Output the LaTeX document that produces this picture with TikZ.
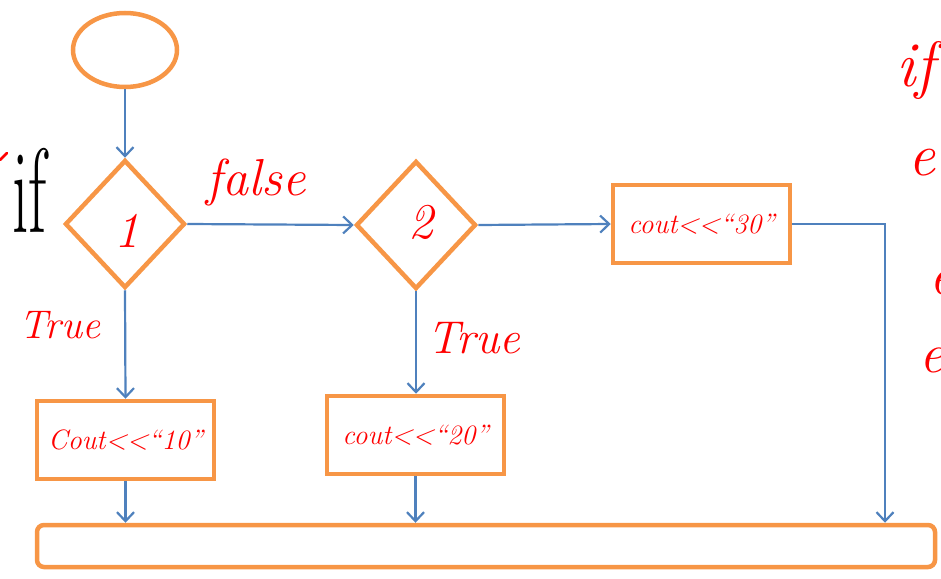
\documentclass[tikz,border=0pt]{standalone}
\usetikzlibrary{shapes.geometric,arrows.meta}
\definecolor{flowor}{HTML}{F79646}
\definecolor{flowbl}{HTML}{4F81BD}
\definecolor{inkred}{HTML}{FF0000}
\begin{document}
\begin{tikzpicture}[x=1pt,y=-1pt,
  shape outline/.style={draw=flowor,line width=4.5pt},
  startbox/.style={shape outline,ellipse,minimum width=104pt,minimum height=74pt,inner sep=0pt},
  decision/.style={shape outline,diamond,minimum width=120pt,minimum height=128pt,inner sep=0pt,aspect=0.94},
  outbox/.style={shape outline,rectangle,minimum width=177pt,minimum height=78pt,inner sep=0pt},
  endbar/.style={shape outline,rectangle,rounded corners=7pt,minimum width=898pt,minimum height=42pt,inner sep=0pt},
  flow/.style={draw=flowbl,line width=2.2pt,-{Straight Barb[length=9pt,width=17pt,line width=2.2pt]}},
  ink/.style={text=inkred,font=\itshape},
  boxtext/.style={ink,font=\itshape\fontsize{28}{30}\selectfont},
]
\useasboundingbox (0,0) rectangle (941,578);

% shapes
\node[startbox] (start) at (125,50) {};
\node[decision] (d1) at (125,224) {};
\node[decision] (d2) at (416,225) {};
\node[outbox] (o3) at (701.5,224) {};
\node[outbox] (o1) at (125.5,440) {};
\node[outbox] (o2) at (415.5,435) {};
\node[endbar] (end) at (486,546) {};
\coordinate (turn) at (885,224);

% connectors
\draw[flow] (start) -- (d1);
\draw[flow] (d1.east) -- (d2.west);
\draw[flow] (d2.east) -- (o3.west);
\draw[flow] (d1.south) -- (o1.north);
\draw[flow] (d2.south) -- (d2.south |- o2.north);
\draw[flow] (o1.south) -- (o1.south |- end.north);
\draw[flow] (o2.south) -- (o2.south |- end.north);
\draw[flow] (o3.east) -- (turn) -- (turn |- end.north);

% labels
\node[ink,font=\itshape\fontsize{50}{52}\selectfont] at (127,231) {1};
\node[ink,font=\itshape\fontsize{50}{52}\selectfont] at (421,222) {2};
\node[ink,font=\itshape\fontsize{52}{54}\selectfont] at (256,182) {false};
\node[ink,font=\itshape\fontsize{40}{42}\selectfont] at (60,325) {True};
\node[ink,font=\itshape\fontsize{46}{48}\selectfont] at (474,338) {True};
\node[boxtext] at (o1.center) {Cout<{}<``10''};
\node[boxtext] at (o2.center) {cout<{}<``20''};
\node[boxtext] at (o3.center) {cout<{}<``30''};
\node[font=\fontsize{120}{122}\selectfont,anchor=west,inner sep=0pt] at (12,190) {\scalebox{0.55}[1]{if}};

% margin notes
\node[ink,font=\itshape\fontsize{64}{66}\selectfont,anchor=west] at (893,70) {if};
\node[ink,font=\itshape\fontsize{60}{62}\selectfont,anchor=west] at (905,163) {e};
\node[ink,font=\itshape\fontsize{56}{58}\selectfont,anchor=west] at (926,282) {e};
\node[ink,font=\itshape\fontsize{56}{58}\selectfont,anchor=west] at (916,360) {e};
\draw[inkred,line width=2.5pt,line cap=round] (0,160) -- (7,153);
\end{tikzpicture}
\end{document}
